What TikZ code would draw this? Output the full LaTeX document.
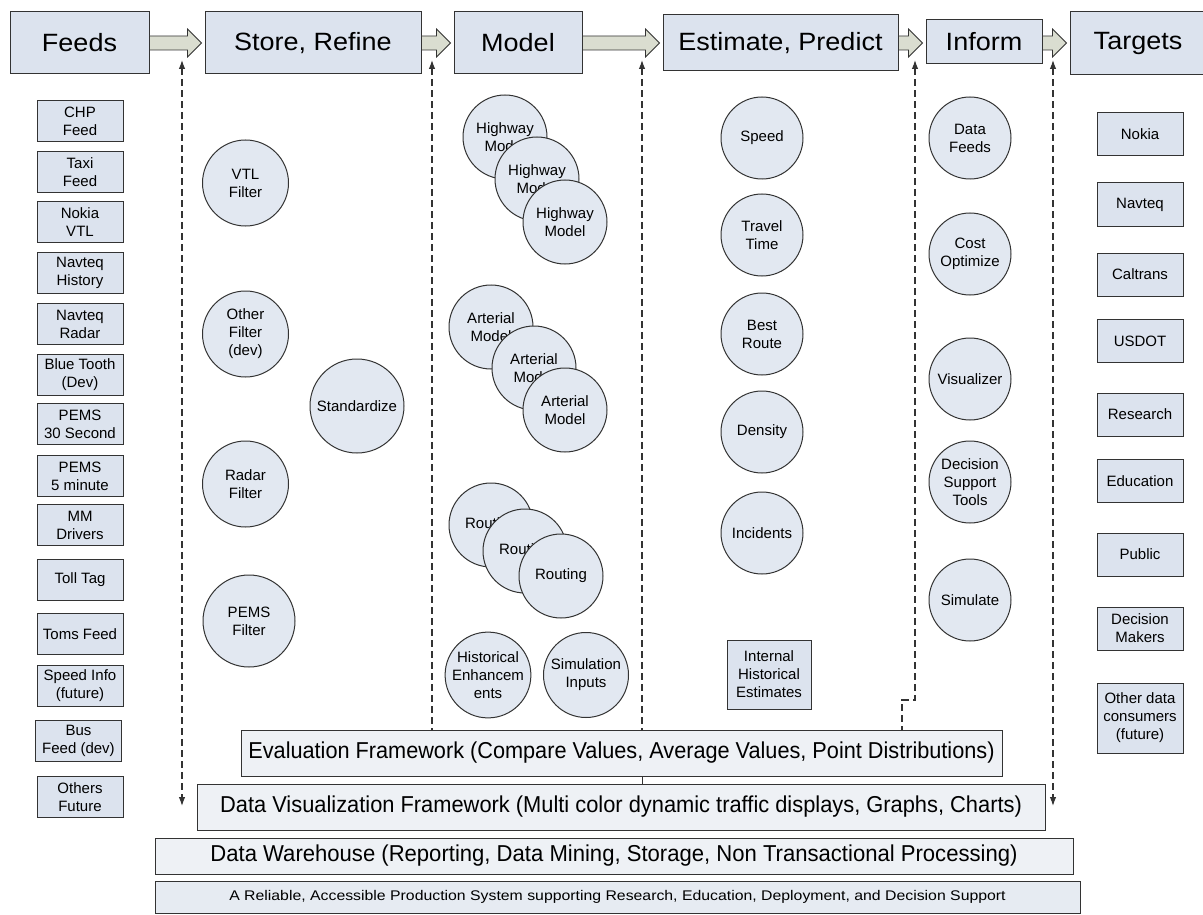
\documentclass[tikz,border=0pt]{standalone}
\usepackage{fontspec}
\setmainfont{Liberation Sans}
\usetikzlibrary{arrows.meta,calc}
\definecolor{boxfill}{HTML}{DCE3EE}
\definecolor{circfill}{HTML}{E2E8F1}
\definecolor{arrfill}{HTML}{DADDD0}
\definecolor{edge}{HTML}{333333}
\definecolor{barfill}{HTML}{EEF1F5}
\definecolor{relfill}{HTML}{E6EBF2}
\newcommand{\fsz}[2]{\fontsize{#1}{#2}\selectfont}
\newcommand{\wide}[2]{\scalebox{#1}[1]{#2}}
\newcommand{\blkarrow}[2]{\path[blk] let \p1=(#1.east), \p2=(#2.west) in
  (\x1,36) -- (\x2-17,36) -- (\x2-17,29) -- (\x2-3,43) -- (\x2-17,57) -- (\x2-17,50) -- (\x1,50) -- cycle;}
\begin{document}
\begin{tikzpicture}[x=1pt,y=-1pt,
  >={Latex[length=9pt,width=6.5pt]},
  hdr/.style={draw=edge,line width=1pt,fill=boxfill,font=\fsz{25}{30},inner sep=0pt},
  src/.style={draw=edge,line width=1pt,fill=boxfill,font=\fsz{15}{18},align=center,minimum width=86pt,minimum height=41pt,inner sep=0pt},
  tgt/.style={src,minimum height=43pt},
  circ/.style={circle,draw=edge,line width=1pt,fill=circfill,font=\fsz{15}{18},align=center,minimum size=82pt,inner sep=0pt},
  bar/.style={draw=edge,line width=1pt,fill=barfill,inner sep=0pt,font=\fsz{23}{27}},
  blk/.style={draw=edge,line width=0.8pt,fill=arrfill},
  dline/.style={draw=edge,line width=1.1pt,dash pattern=on 7pt off 4pt}
]
\useasboundingbox (0,0) rectangle (1203,915);
\fill[white] (0,0) rectangle (1203,915);

% header row
\node[hdr,minimum width=139pt,minimum height=62pt] (feeds) at (79.5,43) {\wide{1.08}{Feeds}};
\node[hdr,minimum width=216pt,minimum height=62pt] (store) at (313,43) {\wide{1.08}{Store, Refine}};
\node[hdr,minimum width=128pt,minimum height=62pt] (model) at (518,43) {\wide{1.08}{Model}};
\node[hdr,minimum width=235pt,minimum height=56pt] (estim) at (780.5,43) {\wide{1.08}{Estimate, Predict}};
\node[hdr,minimum width=116pt,minimum height=44pt] (inform) at (984,42) {\wide{1.08}{Inform}};
\node[hdr,minimum width=136pt,minimum height=63pt] (targets) at (1138,43.5) {\wide{1.08}{Targets}};

\blkarrow{feeds}{store}
\blkarrow{store}{model}
\blkarrow{model}{estim}
\blkarrow{estim}{inform}
\blkarrow{inform}{targets}

% feeds
\node[src] (f1) at (80,121) {CHP\\Feed};
\node[src] (f2) at (80,172.5) {Taxi\\Feed};
\node[src] (f3) at (80,222) {Nokia\\VTL};
\node[src] (f4) at (80,273) {Navteq\\History};
\node[src] (f5) at (80,324) {Navteq\\Radar};
\node[src] (f6) at (80,374.5) {Blue Tooth\\(Dev)};
\node[src] (f7) at (80,424) {PEMS\\30 Second};
\node[src] (f8) at (80,476) {PEMS\\5 minute};
\node[src] (f9) at (80,525) {MM\\Drivers};
\node[src] (f10) at (80,579.5) {Toll Tag};
\node[src] (f11) at (80,634) {Toms Feed};
\node[src] (f12) at (80,686) {Speed Info\\(future)};
\node[src] (f13) at (78.5,740.5) {Bus\\Feed (dev)};
\node[src] (f14) at (80,797) {Others\\Future};

% store, refine
\node[circ,minimum size=86pt] (vtl) at (245.5,183) {VTL\\Filter};
\node[circ,minimum size=86pt] (oth) at (245.5,334) {Other\\Filter\\(dev)};
\node[circ,minimum size=86pt] (rad) at (245.5,484) {Radar\\Filter};
\node[circ,minimum size=92pt] (pems) at (249,621) {PEMS\\Filter};
\node[circ,minimum size=94pt] (std) at (357,406) {Standardize};

% model
\node[circ,minimum size=84pt] (h1) at (505,137) {Highway\\Model};
\node[circ,minimum size=84pt] (h2) at (537,179) {Highway\\Model};
\node[circ,minimum size=84pt] (h3) at (565,222) {Highway\\Model};
\node[circ,minimum size=84pt] (a1) at (491,327) {Arterial\\Model};
\node[circ,minimum size=84pt] (a2) at (534,368) {Arterial\\Model};
\node[circ,minimum size=84pt] (a3) at (565,410) {Arterial\\Model};
\node[circ,minimum size=84pt] (r1) at (491,525) {Routing};
\node[circ,minimum size=84pt] (r2) at (525,551) {Routing};
\node[circ,minimum size=84pt] (r3) at (561,576) {Routing};
\node[circ,minimum size=85pt] (hist) at (488,675) {Historical\\Enhancem\\ents};
\node[circ,minimum size=85pt] (sim) at (586,675) {Simulation\\Inputs};

% estimate, predict
\node[circ] (spd) at (762,138) {Speed};
\node[circ] (tt) at (762,235) {Travel\\Time};
\node[circ] (br) at (762,334) {Best\\Route};
\node[circ] (den) at (762,432) {Density};
\node[circ] (inc) at (762,533) {Incidents};
\node[src,minimum width=84pt,minimum height=69pt] (ihe) at (769,674.5) {Internal\\Historical\\Estimates};

% inform
\node[circ] (df) at (970,138) {Data\\Feeds};
\node[circ] (co) at (970,254) {Cost\\Optimize};
\node[circ] (vis) at (970,379) {Visualizer};
\node[circ] (dst) at (970,482) {Decision\\Support\\Tools};
\node[circ] (simu) at (970,600) {Simulate};

% targets
\node[tgt] (t1) at (1140,134) {Nokia};
\node[tgt] (t2) at (1140,204.5) {Navteq};
\node[tgt] (t3) at (1140,274.5) {Caltrans};
\node[tgt] (t4) at (1140,341) {USDOT};
\node[tgt] (t5) at (1140,414.5) {Research};
\node[tgt] (t6) at (1140,481) {Education};
\node[tgt] (t7) at (1140,554.5) {Public};
\node[tgt] (t8) at (1140,628.5) {Decision\\Makers};
\node[tgt,minimum height=70pt] (t9) at (1140,718) {Other data\\consumers\\(future)};

% bottom bars
\node[bar,minimum width=761pt,minimum height=46pt] (eval) at (621.5,753) {\wide{0.943}{Evaluation Framework (Compare Values, Average Values, Point Distributions)}};
\node[bar,minimum width=848pt,minimum height=46pt] (dvis) at (621,807) {\wide{0.95}{Data Visualization Framework (Multi color dynamic traffic displays, Graphs, Charts)}};
\node[bar,minimum width=918pt,minimum height=36pt] (dw) at (614,856) {\wide{0.96}{Data Warehouse (Reporting, Data Mining, Storage, Non Transactional Processing)}};
\node[bar,fill=relfill,minimum width=925pt,minimum height=32pt,font=\fsz{14}{17}] (rel) at (617.5,897) {\wide{1.13}{A Reliable, Accessible Production System supporting Research, Education, Deployment, and Decision Support}};

% dashed connectors
\coordinate (d1t) at (182,60);
\coordinate (d1b) at (182,806);
\coordinate (d2t) at (432,60);
\coordinate (d3t) at (642,60);
\coordinate (d4t) at (915,60);
\coordinate (d4a) at (915,700);
\coordinate (d4b) at (902,700);
\coordinate (d5t) at (1053,60);
\coordinate (d5b) at (1053,806);
\draw[dline,<->] (d1t) -- (d1b);
\draw[dline,<-] (d2t) -- (d2t |- eval.north);
\draw[dline,<-] (d3t) -- (d3t |- eval.north);
\draw[dline,<-] (d4t) -- (d4a) -- (d4b) -- (d4b |- eval.north);
\draw[dline,<->] (d5t) -- (d5b);
\draw[edge,line width=0.8pt] (d3t |- eval.south) -- (d3t |- dvis.north);
\end{tikzpicture}
\end{document}
